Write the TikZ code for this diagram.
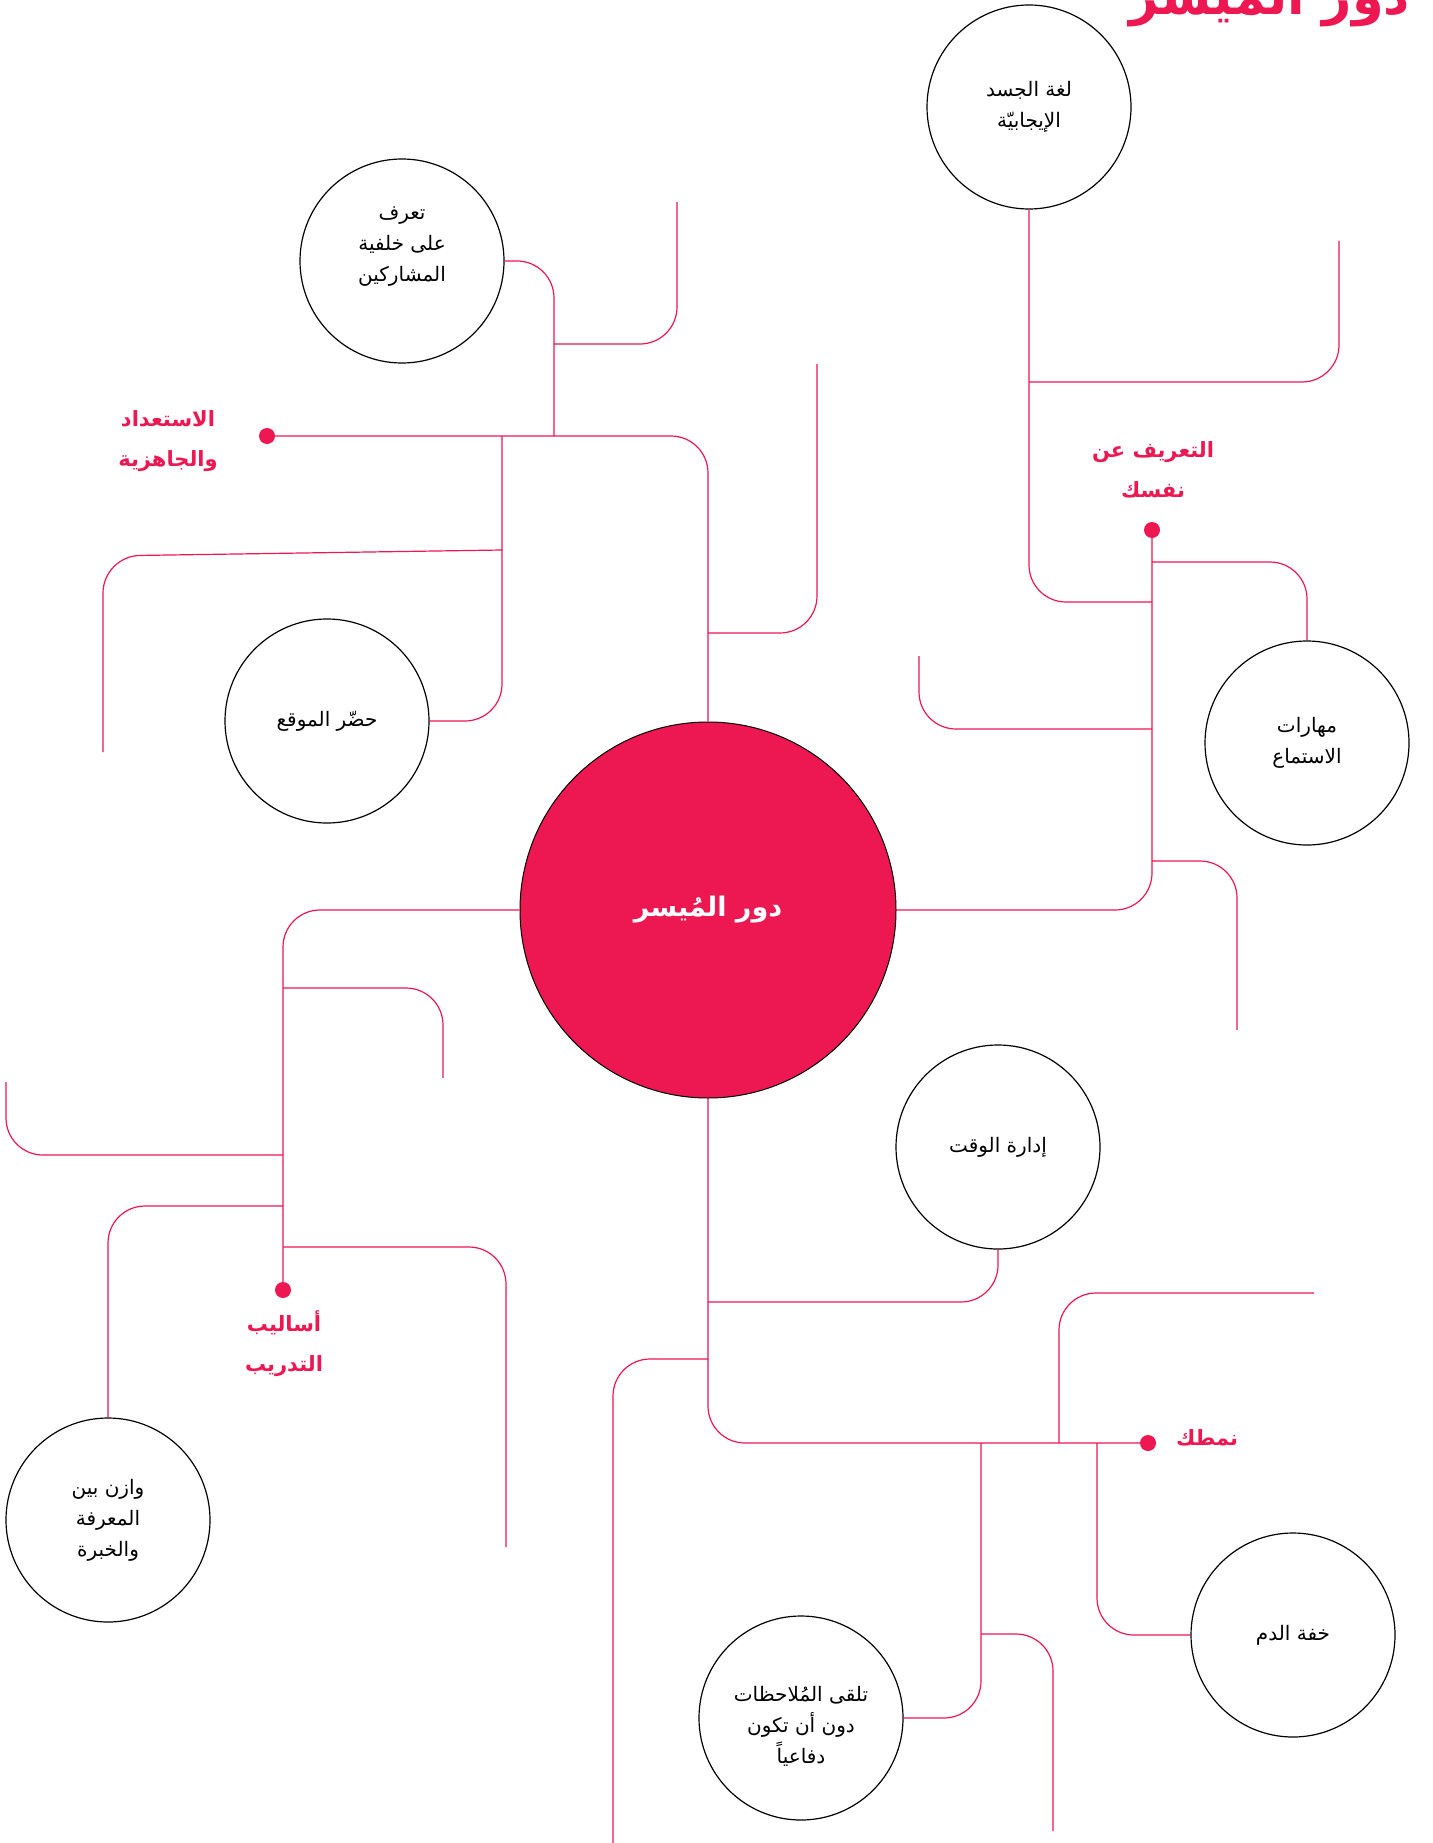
\documentclass[tikz,border=0pt]{standalone}
\usepackage{fontspec}
\newfontfamily\arabicfont[Script=Arabic]{DejaVu Sans}
\TeXXeTstate=1
\usetikzlibrary{positioning}
\definecolor{rosa}{RGB}{237,23,82}
\newcommand{\artx}[1]{\beginR #1\endR}

\begin{document}
\begin{tikzpicture}[x=1pt, y=-1pt,
		bubble/.style={circle, draw=black, line width=1.2pt, minimum size=204pt, inner sep=0pt,
			align=center, font=\arabicfont\fontsize{20}{31}\selectfont},
		bubtext/.style={align=center, inner sep=0pt, font=\arabicfont\fontsize{20}{31}\selectfont},
		hub/.style={circle, draw=black, fill=rosa, line width=1pt, minimum size=376pt, inner sep=0pt,
			text=white, font=\arabicfont\bfseries\fontsize{27}{34}\selectfont},
		head/.style={align=center, text=rosa, font=\arabicfont\bfseries\fontsize{21}{40}\selectfont},
		point/.style={circle, fill=rosa, minimum size=16pt, inner sep=0pt},
		wire/.style={rosa, line width=1.2pt, rounded corners=37pt}]
	\useasboundingbox (0,0) rectangle (1432,1843);
	\fill[white] (0,0) rectangle (1432,1843);
	\node[anchor=base, text=rosa, font=\arabicfont\bfseries\fontsize{51}{60}\selectfont] (title)
		at (1270,15) {\artx{دور المُيسر}};

	\node[hub] (hub) at (708,910) {\artx{دور المُيسر}};
	\node[bubble] (body) at (1029,107) {\artx{لغة الجسد}\\\artx{الإيجابيّة}};
	\node[bubble] (know) at (402,261) {};
	\node[bubtext] (know-t) at ([yshift=14pt]know.center) {\artx{تعرف}\\\artx{على خلفية}\\\artx{المشاركين}};
	\node[bubble] (site) at (327,721) {\artx{حضّر الموقع}};
	\node[bubble] (listen) at (1307,743) {\artx{مهارات}\\\artx{الاستماع}};
	\node[bubble] (time) at (998,1147) {\artx{إدارة الوقت}};
	\node[bubble] (balance) at (108,1520) {\artx{وازن بين}\\\artx{المعرفة}\\\artx{والخبرة}};
	\node[bubble] (humour) at (1293,1635) {\artx{خفة الدم}};
	\node[bubble] (feedback) at (801,1718) {};
	\node[bubtext] (feedback-t) at ([yshift=-8pt]feedback.center) {\artx{تلقى المُلاحظات}\\\artx{دون أن تكون}\\\artx{دفاعياً}};

	\node[point] (d1) at (267,436) {};
	\node[point] (d2) at (1152,530) {};
	\node[point] (d3) at (283,1290) {};
	\node[point] (d4) at (1148,1443) {};
	\node[head] (prep) at (168,441) {\artx{الاستعداد}\\\artx{والجاهزية}};
	\node[head] (intro) at (1153,470) {\artx{التعريف عن}\\\artx{نفسك}};
	\node[head] (train) at (284,1344) {\artx{أساليب}\\\artx{التدريب}};
	\node[head] (style) at (1207,1438) {\artx{نمطك}};

	\coordinate (j1a) at (554,436);
	\coordinate (j1b) at (502,436);
	\coordinate (b1) at (554,344);  \coordinate (e1) at (677,202);
	\coordinate (b2) at (502,550);  \coordinate (e2) at (103,752);
	\coordinate (b3) at (708,633);  \coordinate (e3) at (817,364);
	\coordinate (b4) at (1152,562);
	\coordinate (b5) at (1152,602);
	\coordinate (b6) at (1029,382); \coordinate (e4) at (1339,241);
	\coordinate (b7) at (1152,729); \coordinate (e5) at (919,656);
	\coordinate (b8) at (1152,861); \coordinate (e6) at (1237,1030);
	\coordinate (b9) at (283,988);  \coordinate (e7) at (443,1078);
	\coordinate (b10) at (283,1155); \coordinate (e8) at (6,1082);
	\coordinate (b11) at (283,1206);
	\coordinate (b12) at (283,1247); \coordinate (e9) at (506,1547);
	\coordinate (b13) at (708,1302);
	\coordinate (b14) at (708,1359); \coordinate (e10) at (613,1860);
	\coordinate (b15) at (1059,1443); \coordinate (e11) at (1314,1293);
	\coordinate (b16) at (1097,1443);
	\coordinate (b17) at (981,1443);
	\coordinate (b18) at (981,1634); \coordinate (e12) at (1053,1831);

	\draw[wire] (d1) -| (hub.north);
	\draw[wire] (know.east) -| (j1a);
	\draw[wire] (b1) -| (e1);
	\draw[wire] (j1b) |- (site.east);
	\draw[wire] (b2) -- (103,556) -- (e2);
	\draw[wire] (b3) -| (e3);

	\draw[wire] (hub.east) -| (d2);
	\draw[wire] (b4) -| (listen.north);
	\draw[wire] (b5) -| (body.south);
	\draw[wire] (b6) -| (e4);
	\draw[wire] (b7) -| (e5);
	\draw[wire] (b8) -| (e6);

	\draw[wire] (hub.west) -| (d3);
	\draw[wire] (b9) -| (e7);
	\draw[wire] (b10) -| (e8);
	\draw[wire] (b11) -| (balance.north);
	\draw[wire] (b12) -| (e9);

	\draw[wire] (hub.south) |- (d4);
	\draw[wire] (b13) -| (time.south);
	\draw[wire] (b14) -| (e10);
	\draw[wire] (b15) |- (e11);
	\draw[wire] (b16) |- (humour.west);
	\draw[wire] (b17) |- (feedback.east);
	\draw[wire] (b18) -| (e12);
\end{tikzpicture}
\end{document}
